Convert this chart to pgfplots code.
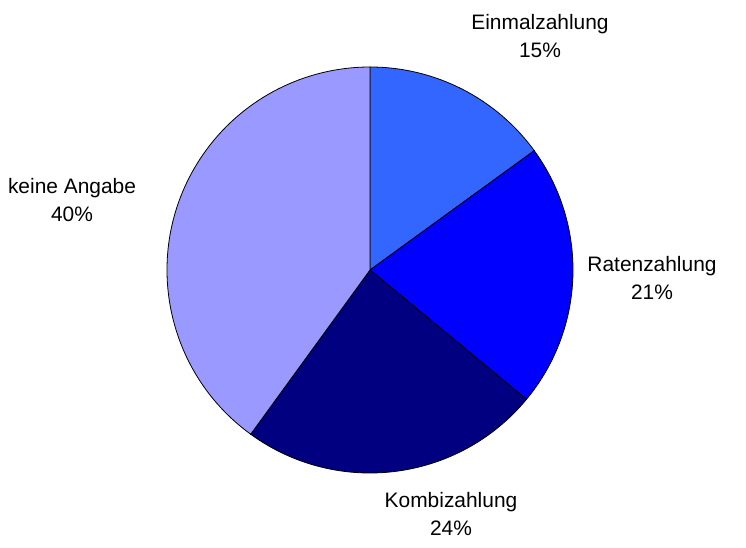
\documentclass[border=0pt]{standalone}
\usepackage{fontspec}
\setmainfont{Liberation Sans}
\usepackage{pgfplots}
\pgfplotsset{compat=1.18}

\definecolor{cEin}{HTML}{3366FF}
\definecolor{cRat}{HTML}{0000FF}
\definecolor{cKom}{HTML}{000080}
\definecolor{cKei}{HTML}{9999FF}

\begin{document}
\begin{tikzpicture}
\begin{axis}[
  width=746bp, height=548bp, scale only axis,
  xmin=0, xmax=746, ymin=0, ymax=548,
  hide axis, clip=false,
]
% share in percent / colour
\def\angA{90}
\foreach \v/\c in {15/cEin, 21/cRat, 24/cKom, 40/cKei} {
  \pgfmathsetmacro\angB{\angA-3.6*\v}
  \edef\tmp{\noexpand\filldraw[fill=\c, draw=black, line width=0.8bp]
    (axis cs:370,278) -- ++(\angA:203bp)
    arc[start angle=\angA, end angle=\angB, radius=203bp] -- cycle;}
  \tmp
  \global\let\angA\angB
}
\path (axis cs:0,0) (axis cs:746,548);

\tikzset{lbl/.style={align=center, font=\fontsize{21}{29}\selectfont, inner sep=0pt}}
\node[lbl] at (axis cs:540,512) {Einmalzahlung\\15\%};
\node[lbl] at (axis cs:652,270) {Ratenzahlung\\21\%};
\node[lbl] at (axis cs:451,34) {Kombizahlung\\24\%};
\node[lbl] at (axis cs:72,348) {keine Angabe\\40\%};
\end{axis}
\end{tikzpicture}
\end{document}
